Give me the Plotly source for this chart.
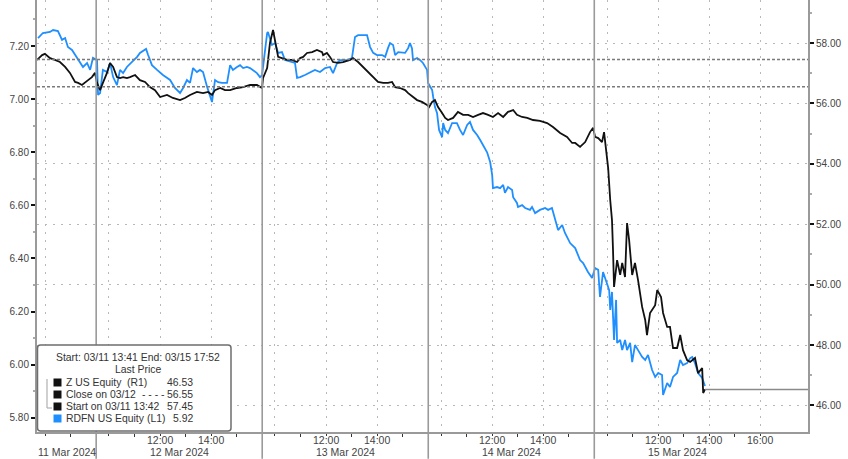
import plotly.graph_objects as go

# ---------------- data ----------------
# x positions are trading-session hours elapsed since 11 Mar 2024 13:41 (sessions 09:30-16:00)
day_labels = ["11 Mar 2024", "12 Mar 2024", "13 Mar 2024", "14 Mar 2024", "15 Mar 2024"]

z_t = [0.00, 0.20, 0.31, 0.51, 0.70, 0.90, 1.10, 1.29, 1.49, 1.61,
       1.76, 1.88, 2.00, 2.15, 2.27, 2.35, 2.47, 2.58, 2.74, 2.86,
       2.98, 3.13, 3.25, 3.37, 3.52, 3.64, 3.84, 4.03, 4.23, 4.42,
       4.62, 4.82, 5.09, 5.32, 5.60, 5.79, 5.99, 6.26, 6.50, 6.70,
       6.85, 6.97, 7.17, 7.36, 7.56, 7.83, 8.07, 8.34, 8.61, 8.81,
       8.85, 9.01, 9.12, 9.24, 9.36, 9.44, 9.59, 9.79, 9.98, 10.18,
       10.30, 10.42, 10.57, 10.77, 10.96, 11.16, 11.20, 11.35, 11.47, 11.59,
       11.79, 11.98, 12.26, 12.37, 12.57, 12.76, 12.96, 13.16, 13.35, 13.55,
       13.74, 13.90, 14.02, 14.21, 14.41, 14.53, 14.72, 14.88, 15.07, 15.27,
       15.35, 15.47, 15.58, 15.70, 15.86, 15.98, 16.09, 16.29, 16.48, 16.68,
       16.88, 17.07, 17.27, 17.46, 17.66, 17.85, 18.05, 18.25, 18.44, 18.64,
       18.79, 18.99, 19.19, 19.42, 19.69, 19.97, 20.20, 20.48, 20.75, 20.95,
       21.07, 21.26, 21.46, 21.65, 21.77, 21.85, 21.97, 22.12, 22.20, 22.32,
       22.36, 22.44, 22.51, 22.55, 22.59, 22.71, 22.83, 22.91, 23.02, 23.10,
       23.18, 23.30, 23.41, 23.53, 23.69, 23.81, 23.88, 24.00, 24.20, 24.28,
       24.43, 24.51, 24.67, 24.78, 24.90, 25.06, 25.18, 25.29, 25.45, 25.57,
       25.76, 25.88, 26.04, 26.08, 26.15]
z_price = [57.44, 57.60, 57.64, 57.50, 57.44, 57.37, 57.21, 57.01, 56.71, 56.68,
           56.61, 56.68, 56.77, 56.87, 57.01, 56.68, 56.44, 56.68, 57.01, 57.34,
           57.21, 56.87, 56.84, 56.87, 56.84, 56.87, 56.94, 56.77, 56.71, 56.54,
           56.44, 56.21, 56.28, 56.18, 56.11, 56.18, 56.28, 56.38, 56.34, 56.38,
           56.28, 56.44, 56.51, 56.44, 56.44, 56.51, 56.54, 56.61, 56.61, 56.51,
           56.84, 57.17, 58.00, 58.43, 57.87, 57.54, 57.50, 57.44, 57.44, 57.37,
           57.50, 57.54, 57.67, 57.70, 57.77, 57.70, 57.60, 57.67, 57.54, 57.37,
           57.34, 57.37, 57.44, 57.50, 57.37, 57.21, 57.04, 56.87, 56.71, 56.68,
           56.68, 56.71, 56.54, 56.51, 56.44, 56.34, 56.21, 56.11, 56.05, 55.95,
           55.88, 56.05, 56.11, 55.88, 55.68, 55.52, 55.45, 55.52, 55.72, 55.62,
           55.62, 55.55, 55.62, 55.68, 55.62, 55.55, 55.68, 55.55, 55.72, 55.78,
           55.62, 55.55, 55.52, 55.45, 55.42, 55.35, 55.22, 55.02, 54.89, 54.69,
           54.69, 54.56, 54.72, 55.05, 55.19, 54.89, 54.85, 54.72, 55.05, 54.23,
           53.86, 52.80, 52.14, 51.15, 49.92, 50.81, 50.32, 50.72, 50.25, 52.04,
           51.48, 50.32, 50.72, 50.15, 49.26, 48.83, 48.33, 49.06, 49.32, 49.82,
           49.59, 49.06, 48.60, 48.60, 47.90, 47.90, 48.33, 47.83, 47.50, 47.44,
           47.57, 47.07, 47.24, 46.41, 46.53]

rdfn_t = [0.04, 0.23, 0.51, 0.63, 0.82, 0.98, 1.10, 1.21, 1.37, 1.57,
          1.68, 1.80, 1.96, 2.08, 2.19, 2.35, 2.39, 2.47, 2.58, 2.74,
          2.86, 2.98, 3.13, 3.25, 3.37, 3.52, 3.72, 3.92, 4.03, 4.27,
          4.35, 4.50, 4.70, 4.93, 5.21, 5.40, 5.60, 5.72, 5.87, 5.99,
          6.11, 6.26, 6.38, 6.50, 6.66, 6.77, 6.85, 6.97, 7.09, 7.24,
          7.44, 7.56, 7.67, 7.83, 7.95, 8.07, 8.22, 8.34, 8.46, 8.61,
          8.73, 8.81, 9.01, 9.04, 9.20, 9.32, 9.44, 9.59, 9.71, 9.91,
          10.10, 10.18, 10.30, 10.49, 10.69, 10.88, 11.08, 11.28, 11.47, 11.59,
          11.75, 11.86, 12.14, 12.33, 12.45, 12.57, 12.92, 13.04, 13.16, 13.31,
          13.51, 13.63, 13.74, 13.82, 13.94, 14.02, 14.14, 14.29, 14.41, 14.53,
          14.60, 14.68, 14.72, 14.88, 15.00, 15.11, 15.27, 15.31, 15.39, 15.47,
          15.51, 15.58, 15.66, 15.74, 15.86, 15.90, 15.98, 16.09, 16.25, 16.44,
          16.56, 16.68, 16.84, 16.95, 17.07, 17.23, 17.35, 17.46, 17.62, 17.74,
          17.82, 17.85, 18.01, 18.13, 18.25, 18.32, 18.44, 18.60, 18.64, 18.79,
          18.83, 18.99, 19.11, 19.30, 19.38, 19.50, 19.69, 19.89, 20.01, 20.16,
          20.28, 20.40, 20.56, 20.67, 20.87, 21.07, 21.26, 21.38, 21.57, 21.73,
          21.85, 21.97, 22.04, 22.16, 22.32, 22.40, 22.44, 22.51, 22.59, 22.67,
          22.71, 22.83, 22.91, 23.02, 23.10, 23.22, 23.30, 23.41, 23.53, 23.69,
          23.81, 23.92, 24.08, 24.20, 24.32, 24.47, 24.51, 24.67, 24.78, 24.90,
          25.06, 25.18, 25.29, 25.45, 25.57, 25.65, 25.76, 25.88, 26.04, 26.15]
rdfn_price = [7.230, 7.249, 7.253, 7.260, 7.256, 7.223, 7.230, 7.196, 7.185, 7.155,
              7.140, 7.121, 7.136, 7.110, 7.155, 7.147, 7.016, 7.023, 7.110, 7.102,
              7.136, 7.083, 7.053, 7.110, 7.098, 7.121, 7.140, 7.159, 7.174, 7.189,
              7.166, 7.128, 7.110, 7.091, 7.072, 7.042, 7.023, 7.042, 7.072, 7.061,
              7.117, 7.102, 7.110, 7.102, 7.046, 7.008, 6.989, 7.072, 7.064, 7.061,
              7.061, 7.128, 7.110, 7.121, 7.128, 7.117, 7.121, 7.117, 7.110, 7.098,
              7.083, 7.090, 7.249, 7.253, 7.204, 7.211, 7.174, 7.177, 7.147, 7.140,
              7.136, 7.080, 7.083, 7.091, 7.102, 7.110, 7.102, 7.117, 7.121, 7.098,
              7.136, 7.147, 7.147, 7.155, 7.234, 7.241, 7.241, 7.196, 7.174, 7.166,
              7.166, 7.159, 7.192, 7.211, 7.204, 7.166, 7.177, 7.174, 7.174, 7.192,
              7.211, 7.192, 7.147, 7.155, 7.147, 7.136, 7.110, 7.061, 7.046, 7.034,
              7.008, 6.970, 6.948, 6.884, 6.857, 6.910, 6.884, 6.872, 6.910, 6.910,
              6.884, 6.865, 6.903, 6.914, 6.884, 6.865, 6.846, 6.827, 6.800, 6.763,
              6.714, 6.665, 6.669, 6.665, 6.677, 6.647, 6.669, 6.658, 6.631, 6.609,
              6.594, 6.601, 6.590, 6.583, 6.594, 6.571, 6.583, 6.590, 6.583, 6.590,
              6.552, 6.507, 6.526, 6.496, 6.458, 6.439, 6.394, 6.383, 6.349, 6.327,
              6.364, 6.357, 6.255, 6.349, 6.304, 6.281, 6.206, 6.274, 6.093, 6.244,
              6.082, 6.093, 6.055, 6.093, 6.055, 6.082, 6.010, 6.074, 6.055, 6.029,
              6.018, 6.037, 5.980, 5.954, 5.969, 5.961, 5.886, 5.931, 5.916, 5.954,
              5.969, 6.018, 5.999, 6.006, 6.025, 6.029, 6.006, 5.969, 5.950, 5.920]

start_price = 57.45      # Start on 03/11 13:42
close_0312 = 56.55       # Close on 03/12
z_last = 46.53
rdfn_last = 5.92

left_ticks = [5.80, 6.00, 6.20, 6.40, 6.60, 6.80, 7.00, 7.20]
right_ticks = [46, 48, 50, 52, 54, 56, 58]

# ---------------- session timeline helper ----------------
FIRST = 13 + 41 / 60


def t(day, hhmm):
    hh, mm = hhmm.split(":")
    clock = int(hh) + int(mm) / 60
    if day == 0:
        return clock - FIRST
    return (16 - FIRST) + (day - 1) * 6.5 + (clock - 9.5)


x_end = t(4, "17:52")

grid_vals, grid_text = [t(0, "14:00")], [""]
for d in range(1, 5):
    for hm in ["10:00", "12:00", "14:00"] + (["16:00"] if d == 4 else []):
        grid_vals.append(t(d, hm))
        grid_text.append("" if hm == "10:00" else hm)
minor_vals = [t(0, "15:00")]
for d in range(1, 5):
    for hm in ["11:00", "13:00", "15:00"]:
        minor_vals.append(t(d, hm))

FONT = "Liberation Sans, Arial, sans-serif"
GRID = "#b8b8b8"
AXIS = "#9a9a9a"
BLUE = "#1f8fff"

fig = go.Figure()
fig.add_trace(go.Scatter(x=rdfn_t, y=rdfn_price, mode="lines", yaxis="y",
                         line=dict(color=BLUE, width=1.8), name="RDFN US Equity"))
fig.add_trace(go.Scatter(x=z_t, y=z_price, mode="lines", yaxis="y2",
                         line=dict(color="#111111", width=1.8), name="Z US Equity"))

shapes = []
# reference lines
for val in (start_price, close_0312):
    shapes.append(dict(type="line", xref="paper", yref="y2", x0=0, x1=1, y0=val, y1=val,
                       line=dict(color="#7a7a7a", width=1.5, dash="3px,2px"), layer="above"))
# last price extension
shapes.append(dict(type="line", xref="x", yref="y2", x0=z_t[-1], x1=x_end, y0=z_last, y1=z_last,
                   line=dict(color="#8a8a8a", width=1.5), layer="above"))
# day separators
for d in range(1, 5):
    xs = t(d, "09:30")
    shapes.append(dict(type="line", xref="x", yref="paper", x0=xs, x1=xs, y0=-0.062, y1=1,
                       line=dict(color=AXIS, width=1.6), layer="above"))

# legend box (paper coords)
W, H = 771.0, 432.0


def px(xp):
    return (xp - 37) / W


def py(yp):
    return (432 - yp) / H


x0, x1, y0, y1 = px(37.5), px(231), py(431), py(345)
rx, ry = 3 / W, 3 / H
path = (f"M {x0+rx},{y0} L {x1-rx},{y0} Q {x1},{y0} {x1},{y0+ry} L {x1},{y1-ry} "
        f"Q {x1},{y1} {x1-rx},{y1} L {x0+rx},{y1} Q {x0},{y1} {x0},{y1-ry} "
        f"L {x0},{y0+ry} Q {x0},{y0} {x0+rx},{y0} Z")
shapes.append(dict(type="path", xref="paper", yref="paper", path=path,
                   fillcolor="white", line=dict(color="#6e6e6e", width=1.5), layer="above"))

rows_y = [382.5, 394.5, 406.5, 418.5]
row_colors = ["#111111", "#111111", "#111111", BLUE]
for ry_, col in zip(rows_y, row_colors):
    shapes.append(dict(type="rect", xref="paper", yref="paper",
                       x0=px(53.5), x1=px(61.5), y0=py(ry_ + 4), y1=py(ry_ - 4),
                       fillcolor=col, line=dict(width=0), layer="above"))
# bracket linking Z rows
shapes.append(dict(type="line", xref="paper", yref="paper", x0=px(47), x1=px(47),
                   y0=py(408), y1=py(379), line=dict(color="#b0b0b0", width=1.2), layer="above"))
shapes.append(dict(type="line", xref="paper", yref="paper", x0=px(47), x1=px(52),
                   y0=py(408), y1=py(408), line=dict(color="#b0b0b0", width=1.2), layer="above"))

annotations = []
lf = dict(family=FONT, size=10.4, color="#333333")
annotations.append(dict(xref="paper", yref="paper", x=px(138), y=py(357),
                        text="Start: 03/11 13:41 End: 03/15 17:52", showarrow=False,
                        xanchor="center", yanchor="middle", font=lf))
annotations.append(dict(xref="paper", yref="paper", x=px(138), y=py(369.5),
                        text="Last Price", showarrow=False,
                        xanchor="center", yanchor="middle", font=lf))
row_labels = ["Z US Equity", "Close on 03/12", "Start on 03/11 13:42", "RDFN US Equity"]
row_extra = [("(R1)", 125), ("- - - -", 140), None, ("(L1)", 145)]
row_vals = [f"{z_last:.2f}", f"{close_0312:.2f}", f"{start_price:.2f}", f"{rdfn_last:.2f}"]
for ry_, lab, ext, val in zip(rows_y, row_labels, row_extra, row_vals):
    annotations.append(dict(xref="paper", yref="paper", x=px(63.5), y=py(ry_), text=lab,
                            showarrow=False, xanchor="left", yanchor="middle", font=lf))
    if ext:
        annotations.append(dict(xref="paper", yref="paper", x=px(ext[1]), y=py(ry_), text=ext[0],
                                showarrow=False, xanchor="left", yanchor="middle", font=lf))
    annotations.append(dict(xref="paper", yref="paper", x=px(195), y=py(ry_), text=val,
                            showarrow=False, xanchor="right", yanchor="middle", font=lf))

axis_font = dict(family=FONT, size=10.5, color="#444444")
# time labels (first row) and date labels (second row) under the axis
for v, txt in zip(grid_vals, grid_text):
    if txt:
        annotations.append(dict(xref="x", yref="paper", x=v, y=py(439.5), text=txt,
                                showarrow=False, xanchor="center", yanchor="middle",
                                font=axis_font))
centers = [t(0, "16:00") / 2] + [t(d, "12:45") for d in range(1, 5)]
for c, lab in zip(centers, day_labels):
    annotations.append(dict(xref="x", yref="paper", x=c, y=py(452), text=lab, showarrow=False,
                            xanchor="center", yanchor="middle", font=axis_font))

fig.update_layout(
    width=848, height=459, autosize=False,
    margin=dict(l=37, r=40, t=0, b=27, pad=0, autoexpand=False),
    paper_bgcolor="white", plot_bgcolor="white",
    showlegend=False,
    font=dict(family=FONT, size=10, color="#444444"),
    xaxis=dict(range=[0, x_end], showline=True, linecolor=AXIS, linewidth=2, automargin=False,
               tickmode="array", tickvals=grid_vals, ticktext=grid_text, showticklabels=False,
               ticks="outside", ticklen=2, tickcolor="#333", tickwidth=1,
               showgrid=True, gridcolor=GRID, gridwidth=1, griddash="2px,6px",
               zeroline=False,
               minor=dict(tickmode="array", tickvals=minor_vals, ticks="outside",
                          ticklen=3, tickcolor="#333", showgrid=False)),
    yaxis=dict(range=[5.7467, 7.3732], tickmode="array", tickvals=left_ticks,
               ticktext=[f"{v:.2f}" for v in left_ticks], automargin=False,
               showline=True, linecolor=AXIS, linewidth=2, showgrid=False, zeroline=False,
               ticks="outside", ticklen=4, tickwidth=2, tickcolor="#111",
               tickfont=dict(family=FONT, size=10, color="#444"),
               minor=dict(tickmode="array", tickvals=[v + 0.1 for v in left_ticks],
                          ticks="outside", ticklen=2, tickcolor="#aaa", showgrid=False)),
    yaxis2=dict(range=[45.119, 59.424], overlaying="y", side="right", tickmode="array",
                tickvals=right_ticks, ticktext=[f"{v:.2f}" for v in right_ticks],
                automargin=False,
                showline=True, linecolor=AXIS, linewidth=2, zeroline=False,
                showgrid=True, gridcolor=GRID, gridwidth=1, griddash="2px,6px",
                ticks="outside", ticklen=4, tickwidth=2, tickcolor="#111",
                tickfont=dict(family=FONT, size=10, color="#444"),
                minor=dict(tickmode="array", tickvals=[v + 1 for v in right_ticks],
                           ticks="outside", ticklen=2, tickcolor="#aaa", showgrid=False)),
    shapes=shapes,
    annotations=annotations,
)

fig.write_html("out.html", config={"displayModeBar": False},
               post_script="document.body.style.margin='0';document.body.style.padding='0';"
                           "document.body.style.overflow='hidden';")
